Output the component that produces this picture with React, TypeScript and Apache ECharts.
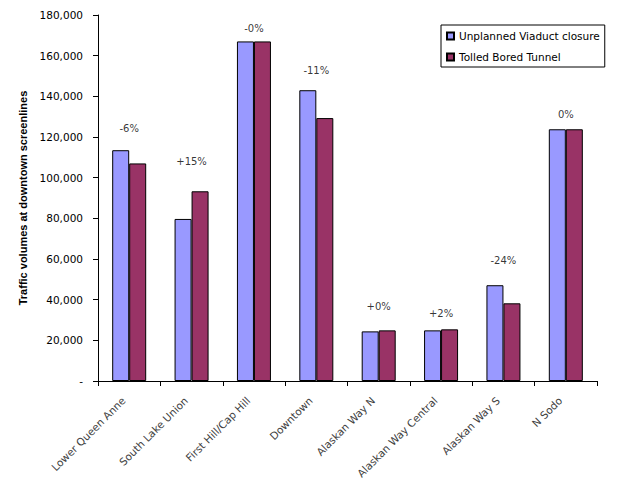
import React, { useEffect, useRef } from "react";
import * as echarts from "echarts";

const categories = [
  "Lower Queen Anne",
  "South Lake Union",
  "First Hill/Cap Hill",
  "Downtown",
  "Alaskan Way N",
  "Alaskan Way Central",
  "Alaskan Way S",
  "N Sodo",
];
const unplanned = [113500, 79700, 167000, 143000, 24400, 24900, 47100, 123800];
const tolled = [107000, 93300, 167000, 129300, 24900, 25400, 38200, 123800];
const changeLabels = ["-6%", "+15%", "-0%", "-11%", "+0%", "+2%", "-24%", "0%"];
const changeLabelHeights = [124300, 108000, 173400, 152800, 36400, 33300, 59500, 131200];

export default function App() {
  const ref = useRef<HTMLDivElement>(null);
  useEffect(() => {
    if (!ref.current) return;
    const chart = echarts.init(ref.current, null, { renderer: "svg" });
    const barStyle = { borderColor: "#000", borderWidth: 1 };
    chart.setOption({
      animation: false,
      backgroundColor: "#fff",
      grid: { left: 98, right: 20, top: 15, bottom: 110, containLabel: false },
      legend: {
        data: ["Unplanned Viaduct closure", "Tolled Bored Tunnel"],
        orient: "vertical",
        left: 441,
        top: 25,
        padding: [4, 5, 3, 5],
        itemGap: 7,
        itemWidth: 7,
        itemHeight: 7,
        icon: "rect",
        borderColor: "#000",
        borderWidth: 1,
        backgroundColor: "#fff",
        textStyle: { fontFamily: "DejaVu Sans", fontSize: 10.5, color: "#000", lineHeight: 14 },
      },
      xAxis: {
        type: "category",
        data: categories,
        boundaryGap: true,
        axisLine: { lineStyle: { color: "#000", width: 1 } },
        axisTick: { show: true, length: 5, alignWithLabel: false, interval: 0, lineStyle: { color: "#000" } },
        axisLabel: {
          interval: 0,
          rotate: 45,
          margin: 12,
          padding: [0, 8, 0, 0],
          fontFamily: "DejaVu Sans",
          fontSize: 10.5,
          color: "#404040",
        },
      },
      yAxis: {
        type: "value",
        min: 0,
        max: 180000,
        interval: 20000,
        name: "Traffic volumes at downtown screenlines",
        nameLocation: "middle",
        nameGap: 70,
        nameTextStyle: { fontFamily: "Liberation Sans", fontWeight: "bold", fontSize: 11, color: "#000" },
        splitLine: { show: false },
        axisLine: { show: true, lineStyle: { color: "#000", width: 1 } },
        axisTick: { show: true, length: 5, lineStyle: { color: "#000" } },
        axisLabel: {
          margin: 15,
          fontFamily: "DejaVu Sans",
          fontSize: 10.5,
          color: "#000",
          formatter: (v: number) => (v === 0 ? "-" : v.toLocaleString("en-US")),
        },
      },
      series: [
        {
          name: "Unplanned Viaduct closure",
          type: "bar",
          data: unplanned,
          barWidth: 17,
          barGap: "0%",
          itemStyle: { color: "#9999FF", ...barStyle },
        },
        {
          name: "Tolled Bored Tunnel",
          type: "bar",
          data: tolled,
          barWidth: 17,
          barGap: "0%",
          itemStyle: { color: "#993366", ...barStyle },
        },
        {
          name: "labels",
          type: "scatter",
          data: changeLabelHeights,
          symbolSize: 0,
          silent: true,
          label: {
            show: true,
            position: "inside",
            formatter: (p: any) => changeLabels[p.dataIndex],
            fontFamily: "DejaVu Sans",
            fontSize: 10,
            color: "#000",
          },
        },
      ],
    });
    return () => chart.dispose();
  }, []);
  return (
    <div
      ref={ref}
      style={{ position: "fixed", left: 0, top: 0, width: 617, height: 491 }}
    />
  );
}
